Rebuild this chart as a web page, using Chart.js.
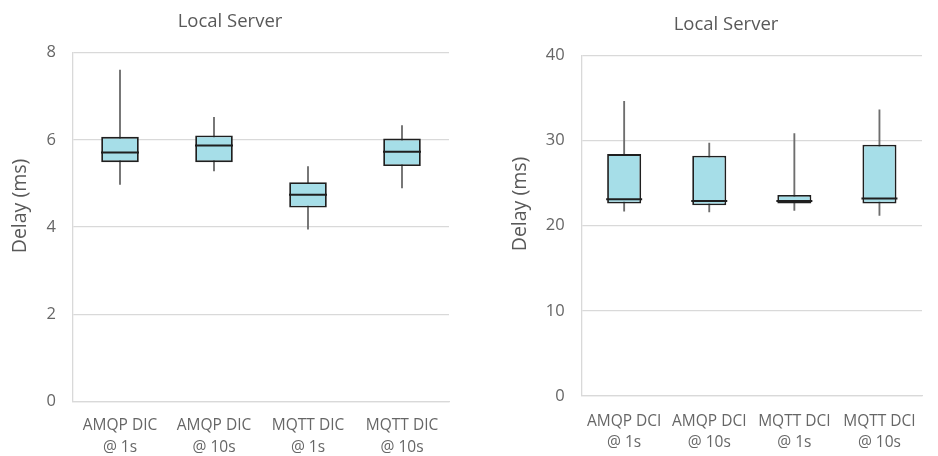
<!DOCTYPE html>
<html>
<head>
<meta charset="utf-8">
<title>Local Server delay</title>
<script src="https://cdn.jsdelivr.net/npm/chart.js@4.4.1/dist/chart.umd.min.js"></script>
<style>
  html, body { margin: 0; padding: 0; background: #ffffff; }
  body { width: 938px; height: 456px; overflow: hidden; position: relative; }
  .panel { position: absolute; top: 0; height: 456px; overflow: hidden; }
</style>
</head>
<body>
<div class="panel" style="left:0;width:470px;"><canvas id="chartDic" width="470" height="456"></canvas></div>
<div class="panel" style="left:470px;width:468px;"><canvas id="chartDci" width="472" height="456"></canvas></div>
<script>
// Delay box plots (ms): whisker low/high, quartiles and median per configuration.
const categoriesDic = [['AMQP DIC', '@ 1s'], ['AMQP DIC', '@ 10s'], ['MQTT DIC', '@ 1s'], ['MQTT DIC', '@ 10s']];
const lowDic    = [4.98, 5.29, 3.95, 4.90];
const q1Dic     = [5.49, 5.49, 4.45, 5.40];
const medianDic = [5.71, 5.87, 4.74, 5.73];
const q3Dic     = [6.07, 6.10, 5.03, 6.03];
const highDic   = [7.60, 6.52, 5.39, 6.33];
const ticksDic  = [0, 2, 4, 6, 8];

const categoriesDci = [['AMQP DCI', '@ 1s'], ['AMQP DCI', '@ 10s'], ['MQTT DCI', '@ 1s'], ['MQTT DCI', '@ 10s']];
const lowDci    = [21.7, 21.6, 21.8, 21.2];
const q1Dci     = [22.6, 22.4, 22.6, 22.6];
const medianDci = [23.1, 22.9, 22.9, 23.2];
const q3Dci     = [28.4, 28.2, 23.6, 29.5];
const highDci   = [34.6, 29.7, 30.8, 33.6];
const ticksDci  = [0, 10, 20, 30, 40];

const chartTitle = 'Local Server';
const axisTitle = 'Delay (ms)';

const FONT = "'Open Sans', 'DejaVu Sans', sans-serif";
const BOX_FILL = '#a6dee8';
const BOX_EDGE = '#1f1f1f';
const WHISKER = '#6e6e6e';
const GRID = '#d9d9d9';
const TEXT = '#595959';
const TICK_TEXT = '#666666';

// Rotated value-axis caption placed at a fixed spot beside the plot.
const sideTitle = {
  id: 'sideTitle',
  afterDraw(chart, args, opts) {
    const ctx = chart.ctx;
    ctx.save();
    ctx.translate(opts.x, opts.y);
    ctx.rotate(-Math.PI / 2);
    ctx.font = opts.size + 'px ' + FONT;
    ctx.fillStyle = TEXT;
    ctx.textAlign = 'center';
    ctx.textBaseline = 'middle';
    ctx.fillText(opts.text, 0, 0);
    ctx.restore();
  }
};

function boxChart(id, cats, low, q1, med, q3, high, ticks, layout) {
  const pairs = (a, b) => a.map((v, i) => [v, b[i]]);
  const step = ticks[1] - ticks[0];
  return new Chart(document.getElementById(id), {
    type: 'bar',
    data: {
      labels: cats,
      datasets: [
        {
          // whiskers: full low-high range as a hairline bar behind the box
          data: pairs(low, high),
          backgroundColor: WHISKER,
          borderWidth: 0,
          barThickness: 1.2,
          grouped: false,
          order: 3
        },
        {
          // interquartile box
          data: pairs(q1, q3),
          backgroundColor: BOX_FILL,
          borderColor: BOX_EDGE,
          borderWidth: 1.8,
          borderSkipped: false,
          barPercentage: 0.4,
          categoryPercentage: 1,
          grouped: false,
          order: 2
        },
        {
          // median marks
          type: 'line',
          data: med,
          showLine: false,
          pointStyle: 'line',
          pointRadius: layout.medianHalf,
          pointHoverRadius: layout.medianHalf,
          pointBorderWidth: 2,
          pointBorderColor: BOX_EDGE,
          pointBackgroundColor: BOX_EDGE,
          order: 1
        }
      ]
    },
    options: {
      responsive: false,
      animation: false,
      events: [],
      layout: { padding: { left: layout.padLeft, right: layout.padRight, top: 0, bottom: 0 } },
      plugins: {
        legend: { display: false },
        tooltip: { enabled: false },
        title: {
          display: true,
          text: chartTitle,
          color: TEXT,
          font: { family: FONT, size: 18.5, weight: 'normal', lineHeight: 1.2 },
          padding: { top: layout.titleTop, bottom: layout.titleBottom }
        },
        sideTitle: { text: axisTitle, x: layout.axisTitleX, y: layout.axisTitleY, size: 19.5 }
      },
      scales: {
        x: {
          grid: { display: false, drawTicks: false },
          border: { display: true, color: GRID, width: 1.3 },
          ticks: {
            color: TICK_TEXT,
            padding: layout.xTickPad,
            font: { family: FONT, size: 15.5, lineHeight: 1.36 },
            maxRotation: 0,
            autoSkip: false
          },
          afterFit(scale) { scale.height = layout.xHeight; }
        },
        y: {
          min: ticks[0],
          max: ticks[ticks.length - 1],
          grid: { color: GRID, lineWidth: 1.3, drawTicks: false },
          border: { display: true, color: GRID, width: 1.3 },
          ticks: {
            stepSize: step,
            color: TICK_TEXT,
            padding: layout.yTickPad,
            font: { family: FONT, size: 16.5 }
          },
          afterFit(scale) { scale.width = layout.yWidth; }
        }
      }
    },
    plugins: [sideTitle]
  });
}

boxChart('chartDic', categoriesDic, lowDic, q1Dic, medianDic, q3Dic, highDic, ticksDic, {
  padLeft: 10, padRight: 20, yWidth: 63, xHeight: 54.5,
  titleTop: 10.9, titleBottom: 19.6,
  yTickPad: 17, xTickPad: 14, medianHalf: 19,
  axisTitleX: 20, axisTitleY: 206
});

boxChart('chartDci', categoriesDci, lowDci, q1Dci, medianDci, q3Dci, highDci, ticksDci, {
  padLeft: 41, padRight: 1, yWidth: 70.6, xHeight: 60,
  titleTop: 13.9, titleBottom: 19.2,
  yTickPad: 17, xTickPad: 15, medianHalf: 18,
  axisTitleX: 50, axisTitleY: 204
});
</script>
</body>
</html>
